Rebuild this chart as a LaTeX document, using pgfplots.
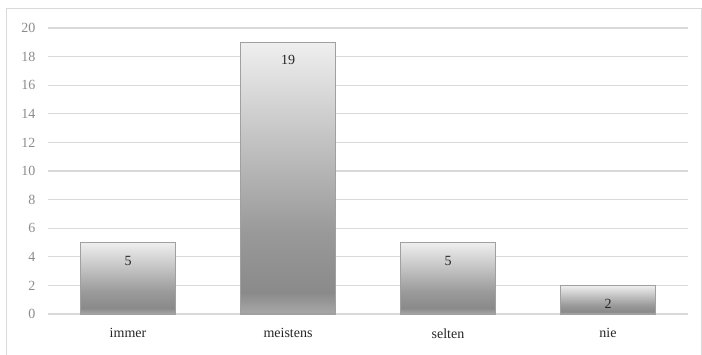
\documentclass[border=0pt]{standalone}
\usepackage{fontspec}
\setmainfont{Liberation Serif}
\usepackage{pgfplots}
\pgfplotsset{compat=1.18}
\definecolor{gridc}{HTML}{D9D9D9}
\definecolor{framec}{HTML}{D9D9D9}
\definecolor{ytc}{HTML}{8C8C8C}
\definecolor{b0}{HTML}{A8A8A8}
\definecolor{b1}{HTML}{8A8A8A}
\definecolor{b2}{HTML}{999999}
\definecolor{b3}{HTML}{EFEFEF}
\definecolor{edgec}{HTML}{A0A0A0}
\pgfdeclareverticalshading{barshade}{100bp}{color(0bp)=(b0); color(25bp)=(b0); color(29bp)=(b1); color(40bp)=(b2); color(75bp)=(b3); color(100bp)=(b3)}
\pgfplotsset{barstyle/.style={ybar, bar width=95pt, bar shift=0pt, shading=barshade, draw=edgec, line width=1.1pt,
  nodes near coords,
  every node near coord/.append style={anchor=center, yshift=-18pt, font=\fontsize{14}{16}\selectfont, text=black!85}}}
\begin{document}
\begin{tikzpicture}[x=1pt,y=1pt]
\useasboundingbox (0,0) rectangle (702,354);
\draw[framec, line width=0.9pt] (6.5,-3) rectangle (701.5,346);
\begin{axis}[
  at={(48pt,40pt)}, anchor=south west,
  scale only axis, width=640pt, height=286pt,
  xmin=-0.5, xmax=3.5, ymin=0, ymax=20,
  ytick={0,2,...,20},
  xtick={0,1,2,3},
  xticklabels={immer,meistens,selten,nie},
  ymajorgrids,
  grid style={gridc, line width=1.1pt},
  axis line style={draw=none},
  major tick length=0pt,
  enlargelimits=false,
  clip=false,
  yticklabel style={font=\fontsize{14}{16}\selectfont, text=ytc, xshift=-9pt},
  xticklabel style={font=\fontsize{14}{16}\selectfont, text=black!85, yshift=-11pt},
  /pgf/number format/assume math mode=true,
]
\addplot[barstyle] coordinates {(0,5)};
\addplot[barstyle] coordinates {(1,19)};
\addplot[barstyle] coordinates {(2,5)};
\addplot[barstyle] coordinates {(3,2)};
\end{axis}
\end{tikzpicture}
\end{document}
